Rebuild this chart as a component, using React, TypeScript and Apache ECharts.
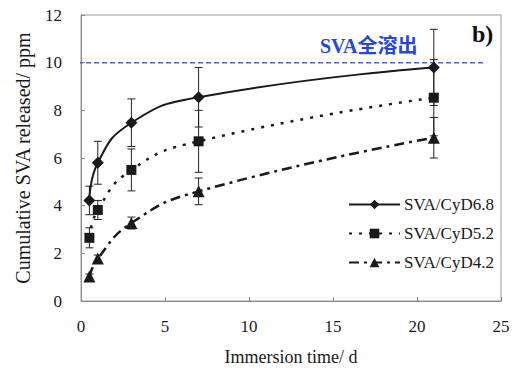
import React, { useEffect, useRef } from "react";
import * as echarts from "echarts";

const days = [0.5, 1, 3, 7, 21];
const cyd68 = [4.22, 5.8, 7.48, 8.55, 9.8];
const cyd68Err = [0.6, 0.9, 1.0, 1.25, 1.6];
const cyd52 = [2.65, 3.82, 5.5, 6.7, 8.53];
const cyd52Err = [0.42, 0.4, 0.88, 1.3, 1.6];
const cyd42 = [1.03, 1.78, 3.27, 4.6, 6.85];
const cyd42Err = [0.1, 0.15, 0.25, 0.56, 0.85];
const seriesNames = ["SVA/CyD6.8", "SVA/CyD5.2", "SVA/CyD4.2"];
const refValue = 10;
const refRange = [-0.65, 24.1];
const refLabel = "SVA全溶出";
const panelLabel = "b)";
const xTitle = "Immersion time/ d";
const yTitle = "Cumulative SVA released/ ppm";

const SERIF = "'Liberation Serif', 'Times New Roman', serif";

function errData(vals: number[], errs: number[]) {
  return days.map((d, i) => [d, vals[i] - errs[i], vals[i] + errs[i]]);
}

function errorSeries(vals: number[], errs: number[]) {
  return {
    type: "custom",
    z: 3,
    silent: true,
    data: errData(vals, errs),
    encode: { x: 0, y: [1, 2] },
    renderItem: (params: any, api: any) => {
      const x = api.value(0);
      const lo = api.coord([x, api.value(1)]);
      const hi = api.coord([x, api.value(2)]);
      const hw = 4;
      const style = { stroke: "#222", lineWidth: 1 };
      return {
        type: "group",
        children: [
          { type: "line", shape: { x1: lo[0], y1: lo[1], x2: hi[0], y2: hi[1] }, style },
          { type: "line", shape: { x1: lo[0] - hw, y1: lo[1], x2: lo[0] + hw, y2: lo[1] }, style },
          { type: "line", shape: { x1: hi[0] - hw, y1: hi[1], x2: hi[0] + hw, y2: hi[1] }, style },
        ],
      };
    },
  };
}

function lineSeries(name: string, vals: number[], symbol: string, size: number, dash: any, width: number) {
  return {
    name,
    type: "line",
    z: 4,
    data: days.map((d, i) => [d, vals[i]]),
    smooth: 0.5,
    symbol,
    symbolSize: size,
    showAllSymbol: true,
    itemStyle: { color: "#1a1a1a" },
    lineStyle: { color: "#1a1a1a", width, type: dash },
  };
}

export default function App() {
  const ref = useRef<HTMLDivElement>(null);
  useEffect(() => {
    if (!ref.current) return;
    const chart = echarts.init(ref.current, null, { renderer: "svg" });
    chart.setOption({
      animation: false,
      backgroundColor: "#ffffff",
      grid: {
        left: 81,
        right: 15,
        top: 15,
        bottom: 70,
        show: true,
        borderColor: "#9a9a9a",
        borderWidth: 1,
      },
      xAxis: {
        type: "value",
        min: 0,
        max: 25,
        interval: 5,
        name: xTitle,
        nameLocation: "middle",
        nameGap: 47,
        nameTextStyle: { fontFamily: SERIF, fontSize: 18, color: "#1a1a1a" },
        axisLine: { show: true, lineStyle: { color: "#8a8a8a" } },
        axisTick: { show: true, inside: true, length: 4, lineStyle: { color: "#8a8a8a" } },
        axisLabel: { fontFamily: SERIF, fontSize: 17, color: "#1a1a1a", margin: 17 },
        splitLine: { show: false },
      },
      yAxis: {
        type: "value",
        min: 0,
        max: 12,
        interval: 2,
        name: yTitle,
        nameLocation: "middle",
        nameGap: 48,
        nameTextStyle: { fontFamily: SERIF, fontSize: 20, color: "#1a1a1a" },
        axisLine: { show: true, lineStyle: { color: "#8a8a8a" } },
        axisTick: { show: true, inside: true, length: 4, lineStyle: { color: "#8a8a8a" } },
        axisLabel: { fontFamily: SERIF, fontSize: 17, color: "#1a1a1a", margin: 19 },
        splitLine: { show: false },
      },
      legend: {
        orient: "vertical",
        left: 348,
        top: 196,
        padding: 0,
        itemWidth: 51,
        itemHeight: 12,
        itemGap: 12,
        data: seriesNames,
        textStyle: { fontFamily: SERIF, fontSize: 17, color: "#1a1a1a", padding: [0, 0, 0, -1] },
      },
      series: [
        {
          type: "line",
          z: 2,
          silent: true,
          clip: false,
          symbol: "none",
          data: refRange.map((x) => [x, refValue]),
          lineStyle: { color: "#3a6fe0", width: 1.5, type: [5, 3] },
        },
        errorSeries(cyd68, cyd68Err),
        errorSeries(cyd52, cyd52Err),
        errorSeries(cyd42, cyd42Err),
        lineSeries(seriesNames[0], cyd68, "diamond", 12, "solid", 2),
        lineSeries(seriesNames[1], cyd52, "rect", 10, [3, 7], 2.5),
        lineSeries(seriesNames[2], cyd42, "triangle", 12, [10, 5, 3, 5], 2.5),
      ],
      graphic: [
        {
          type: "text",
          left: 320,
          top: 36,
          style: {
            text: refLabel,
            fontFamily: "'Liberation Serif', 'Noto Sans CJK SC', serif",
            fontWeight: "bold",
            fontSize: 20,
            fill: "#2647d8",
          },
        },
        {
          type: "text",
          left: 472,
          top: 22,
          style: {
            text: panelLabel,
            fontFamily: SERIF,
            fontWeight: "bold",
            fontSize: 24,
            fill: "#111",
          },
        },
      ],
    });
    return () => chart.dispose();
  }, []);
  return (
    <div
      ref={ref}
      style={{ position: "absolute", left: 0, top: 0, width: 516, height: 371, background: "#fff" }}
    />
  );
}
